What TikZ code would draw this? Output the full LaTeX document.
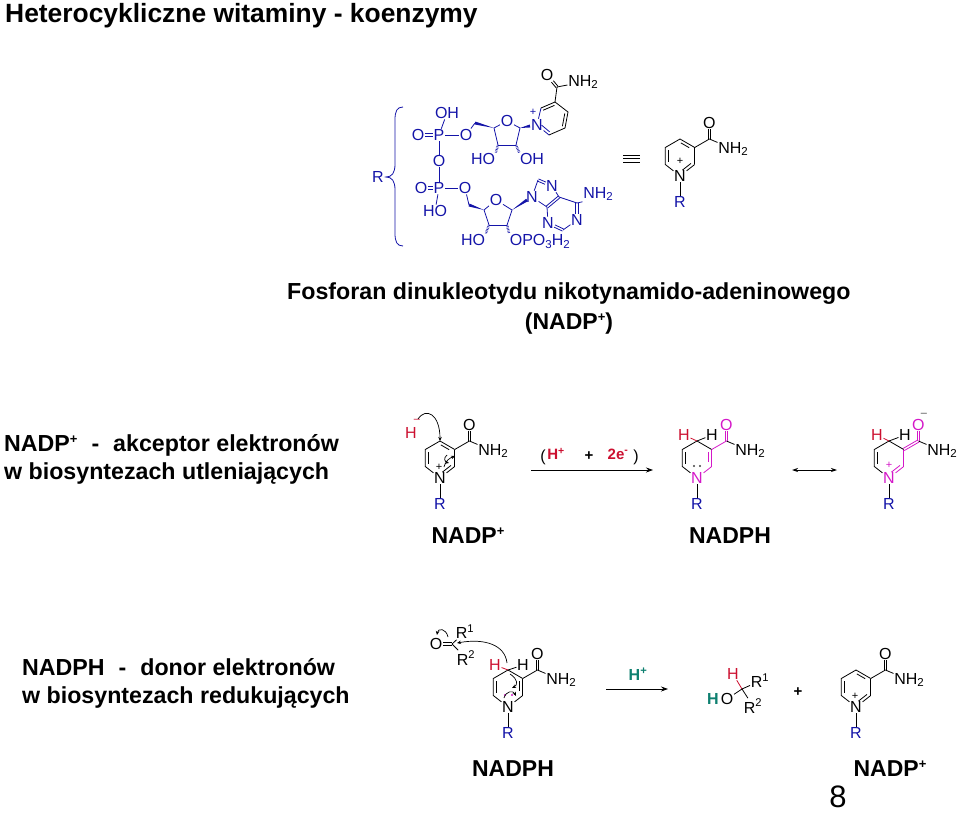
\documentclass[tikz,border=0pt]{standalone}
\usepackage{fontspec}
\setmainfont{Liberation Sans}
\usetikzlibrary{calc,arrows.meta}

\definecolor{chemblue}{HTML}{1414A8}
\definecolor{chemred}{HTML}{CC1030}
\definecolor{chempink}{HTML}{D418C8}
\definecolor{chemteal}{HTML}{0E8070}

\newcommand{\wedgebond}[2]{\fill[chemblue] (#1) -- ($(#2)!1.5pt!90:(#1)$) -- ($(#2)!1.5pt!-90:(#1)$) -- cycle;}
\newcommand{\dblbond}[3][black]{
  \path (#2) -- coordinate[pos=0] (ds) coordinate[pos=1] (de) (#3);
  \draw[bond,#1] ($(ds)!1.2pt!90:(de)$) -- ($(de)!1.2pt!-90:(ds)$);
  \draw[bond,#1] ($(ds)!1.2pt!-90:(de)$) -- ($(de)!1.2pt!90:(ds)$);
}
\newcommand{\sbs}[1]{\raisebox{-0.35ex}{\fontsize{11.5}{11.5}\selectfont #1}}
\newcommand{\hplus}{\raisebox{0.6ex}{\fontsize{13}{13}\selectfont +}}

\tikzset{
  atom/.style={inner sep=0.6pt,font=\fontsize{16}{16}\selectfont},
  heading/.style={anchor=base west,inner sep=0pt,font=\bfseries\fontsize{23.2}{24}\selectfont},
  namelabel/.style={anchor=base,inner sep=0pt,font=\bfseries\fontsize{23}{24}\selectfont},
  chg/.style={inner sep=0pt,font=\fontsize{11}{11}\selectfont},
  bond/.style={line width=0.8pt},
  hashbond/.style={line width=2.4pt,dash pattern=on 0.6pt off 0.9pt,chemblue},
  curly/.style={line width=0.7pt,-{Stealth[length=4pt,width=3.5pt]}},
  pics/niacin/.style n args={3}{code={
    \coordinate (o) at (0,0);
    \coordinate (c2) at (14.7,8.5);
    \coordinate (c3) at (14.7,-8.5);
    \coordinate (c4) at (0,-17);
    \coordinate (c5) at (-14.7,-8.5);
    \coordinate (c6) at (-14.7,8.5);
    \coordinate (co) at (29.4,-17);
    \node[atom,text=#1] (n) at (0,20) {N};
    \node[atom,text=chemblue] (r) at (0,46) {R};
    \node[atom,text=#1] (ox) at (29.4,-33) {O};
    \node[atom] (nh) at (53,-7) {NH\sbs{2}};
    \draw[bond] (n) -- (c6) -- (c5) -- (c4);
    \draw[bond,shorten >=1pt,shorten <=1pt] ($(c6)!.2!(o)$) -- ($(c5)!.2!(o)$);
    \draw[bond] (n) -- (r);
    \draw[bond] (co) -- (nh);
    \dblbond[#1]{co}{ox}
    \foreach \a/\b/\c in {#2} {
      \draw[bond,\c] (\a) -- (\b);
    }
    \foreach \a/\b/\c in {#3} {
      \draw[bond,\c] (\a) -- (\b);
      \draw[bond,\c,shorten >=3pt,shorten <=1pt] ($(\a)!.2!(o)$) -- ($(\b)!.2!(o)$);
    }
  }}
}

\begin{document}
\begin{tikzpicture}[x=1pt,y=-1pt]
\useasboundingbox (0,0) rectangle (960,813);

% headings
\node[heading,font=\bfseries\fontsize{26.4}{28}\selectfont] (title) at (5,23) {Heterocykliczne witaminy - koenzymy};
\node[heading] (fosforan) at (287,299) {Fosforan dinukleotydu nikotynamido-adeninowego};
\node[namelabel] (nadpname) at (569,329) {(NADP\hplus)};
\node[heading] (akc1) at (4,451) {NADP\hplus\hspace{14pt}-\hspace{14pt}akceptor elektronów};
\node[heading] (akc2) at (4,479) {w biosyntezach utleniających};
\node[heading] (don1) at (22,675) {NADPH\hspace{14pt}-\hspace{14pt}donor elektronów};
\node[heading] (don2) at (22,703) {w biosyntezach redukujących};
\node[namelabel] (lab1) at (468,543) {NADP\hplus};
\node[namelabel] (lab2) at (730,543) {NADPH};
\node[namelabel] (lab3) at (513,776) {NADPH};
\node[namelabel] (lab4) at (890,776) {NADP\hplus};
\node[namelabel,font=\fontsize{31}{31}\selectfont] (page) at (838,807) {8};

% R brace
\node[atom,text=chemblue] (bigr) at (378,177) {R};
\draw[bond,chemblue] (403,107) .. controls (397,107) and (395,111) .. (395,120) -- (395,164)
  .. controls (395,173) and (392,177) .. (386,177) .. controls (392,177) and (395,181) .. (395,190)
  -- (395,233) .. controls (395,242) and (397,246) .. (403,246);

\begin{scope}[every node/.append style={atom,text=chemblue}]
% phosphates
\node (oh1) at (447,113) {OH};
\node (p1) at (439,135) {P};
\node (ox1) at (418,135) {O};
\node (o1) at (466,135) {O};
\node (o2) at (439,161) {O};
\node (p2) at (439,188) {P};
\node (ox2) at (421,188) {O};
\node (o3) at (465,188) {O};
\node (ho3) at (435,211) {HO};

% nicotinamide ribose
\node (fo1) at (507,121) {O};
\coordinate (ch1) at (475,123);
\coordinate (a4) at (494,128);
\coordinate (a1) at (520,128);
\coordinate (a3) at (498,145);
\coordinate (a2) at (516,145);
\node (ho1) at (483,159) {HO};
\node (oh2) at (532,159) {OH};
\node (nplus) at (537,125) {N};
\coordinate (nw) at (530,126);
\node[chg] (pl1) at (533,112) {+};

% adenine ribose
\node (fo2) at (496,200) {O};
\coordinate (ch2) at (469,205);
\coordinate (b4) at (484,210);
\coordinate (b1) at (512,210);
\coordinate (b3) at (489,225);
\coordinate (b2) at (507,225);
\node (ho2) at (473,240) {HO};
\node[anchor=west] (opo) at (509,241) {OPO\sbs{3}H\sbs{2}};

% adenine
\node (n9) at (532,197) {N};
\coordinate (n9w) at (527,200);
\coordinate (d8) at (538,180);
\node (n7) at (552,186) {N};
\coordinate (d5) at (559,197);
\coordinate (d4) at (547,207);
\coordinate (d6) at (577,203);
\node (n1) at (577,220) {N};
\coordinate (d2) at (563,230);
\node (n3) at (548,223) {N};
\node (nh2) at (598,194) {NH\sbs{2}};
\end{scope}

\foreach \a/\b in {p1/oh1,p1/o1,p1/o2,o2/p2,p2/o3,p2/ho3,o1/ch1,o3/ch2,
  a4/fo1,fo1/a1,a1/a2,a2/a3,a3/a4,b4/fo2,fo2/b1,b1/b2,b2/b3,b3/b4,
  n9/d8,n7/d5,d5/d6,n1/d2,n3/d4,d4/n9,d6/nh2.south west} {
  \draw[bond,chemblue] (\a) -- (\b);
}
\foreach \a/\b in {p1/ox1,p2/ox2,d8/n7,d5/d4,d6/n1,d2/n3} {
  \dblbond[chemblue]{\a}{\b}
}
\wedgebond{a4}{ch1}
\wedgebond{a1}{nw}
\wedgebond{b4}{ch2}
\wedgebond{b1}{n9w}
\draw[hashbond] (a3) -- (ho1.north east);
\draw[hashbond] (a2) -- (oh2.north west);
\draw[hashbond] (b3) -- (ho2.north east);
\draw[hashbond] (b2) -- (opo.north west);

% tilted pyridinium
\coordinate (e0) at (552,119);
\coordinate (e1) at (541,108);
\coordinate (e2) at (555,102);
\coordinate (e3) at (568,112);
\coordinate (e4) at (565,128);
\coordinate (e5) at (549,135);
\coordinate (e6) at (557,87);
\node[atom] (eo) at (547,75) {O};
\node[atom] (enh) at (583,82) {NH\sbs{2}};
\draw[bond,chemblue] (nplus) -- (e1);
\draw[bond] (e1) -- (e2) -- (e3) -- (e4) -- (e5);
\draw[bond,chemblue] (e5) -- (nplus);
\draw[bond] (e2) -- (e6) -- (enh);
\dblbond{e6}{eo}
\draw[bond] ($(e1)!.2!(e0)$) -- ($(e2)!.2!(e0)$);
\draw[bond] ($(e3)!.2!(e0)$) -- ($(e4)!.2!(e0)$);
\draw[bond,chemblue,shorten >=2pt] ($(e5)!.2!(e0)$) -- ($(nplus)!.2!(e0)$);

% equivalence sign
\coordinate (eq1) at (623,155);
\coordinate (eq2) at (640,155);
\coordinate (eq3) at (623,158.5);
\coordinate (eq4) at (640,158.5);
\coordinate (eq5) at (623,162);
\coordinate (eq6) at (640,162);
\draw[bond] (eq1) -- (eq2);
\draw[bond] (eq3) -- (eq4);
\draw[bond] (eq5) -- (eq6);

% ring on the right
\pic (top-) at (680,156) {niacin={black}{c3/c2/black,c3/co/black}{c4/c3/black,c2/n/black}};
\node[chg] (pl2) at (680,161) {+};

% NADP+ in the first reaction
\pic (ox-) at (440,458) {niacin={black}{c3/c2/black,c3/co/black}{c4/c3/black,c2/n/black}};
\node[chg] (pl3) at (439,467) {+};
\node[atom,text=chemred] (hmin) at (411,433) {H};
\node[chg,text=chemred] (minus1) at (417,421) {–};
\draw[curly] (418,419) .. controls (426,407) and (440,414) .. (ox-c4);
\draw[curly] (444,467) .. controls (446,460) and (450,458) .. (455,456);
\draw[curly] (447,455) .. controls (443,458) and (445,462) .. (449,463);

% first arrow
\coordinate (st1) at (531,470);
\coordinate (en1) at (653,470);
\draw[bond,-{Stealth[length=7pt,width=5pt]}] (st1) -- (en1);
\node[atom] (br1) at (543,457) {(};
\node[atom,text=chemred,font=\bfseries\fontsize{15}{15}\selectfont] (hp1) at (556,454) {H\textsuperscript{+}};
\node[atom,font=\bfseries\fontsize{15}{15}\selectfont] (pl4) at (589,456) {+};
\node[atom,text=chemred,font=\bfseries\fontsize{15}{15}\selectfont] (el) at (618,454) {2e\textsuperscript{-}};
\node[atom] (br2) at (636,457) {)};

% NADPH and its other form
\pic (red-) at (697,458) {niacin={chempink}{c4/c3/black,c3/co/chempink,c2/n/chempink}{c3/c2/chempink}};
\node[atom,text=chemred] (h1) at (684,435) {H};
\node[atom] (h2) at (712,435) {H};
\draw[bond,chemred] (h1) -- (red-c4);
\draw[bond] (h2) -- (red-c4);
\node[circle,fill=black!75,inner sep=0.8pt] (lp1) at (694,466) {};
\node[circle,fill=black!75,inner sep=0.8pt] (lp2) at (700,466) {};

\coordinate (st2) at (792,470);
\coordinate (en2) at (837,470);
\draw[bond,{Stealth[length=6pt,width=4pt]}-{Stealth[length=6pt,width=4pt]}] (st2) -- (en2);

\pic (res-) at (889,458) {niacin={chempink}{c4/c3/black,c3/c2/chempink}{c2/n/chempink}};
\dblbond[chempink]{res-c3}{res-co}
\node[atom,text=chemred] (h3) at (877,435) {H};
\node[atom] (h4) at (905,435) {H};
\draw[bond,chemred] (h3) -- (res-c4);
\draw[bond] (h4) -- (res-c4);
\node[chg,text=chempink] (pl5) at (889,465) {+};
\node[chg,text=black!70] (minus2) at (924,415) {–};

% carbonyl substrate
\coordinate (sc) at (452,644);
\node[atom] (so) at (436,644) {O};
\node[atom] (sr1) at (465,632) {R\textsuperscript{1}};
\node[atom] (sr2) at (466,658) {R\textsuperscript{2}};
\dblbond{so}{sc}
\draw[bond] (sc) -- (sr1);
\draw[bond] (sc) -- (sr2);
\draw[curly] (448,637) .. controls (446,628) and (438,628) .. (437,635);

% NADPH in the second reaction
\pic (don-) at (508,687) {niacin={black}{c4/c3/black,c3/co/black,c2/n/black}{c3/c2/black}};
\node[atom,text=chemred] (h5) at (495,665) {H};
\node[atom] (h6) at (523,665) {H};
\draw[bond,chemred] (h5) -- (don-c4);
\draw[bond] (h6) -- (don-c4);
\node[circle,fill=chempink,inner sep=0.8pt] (lp3) at (505,695) {};
\node[circle,fill=chempink,inner sep=0.8pt] (lp4) at (512,695) {};
\draw[curly] (507,663) .. controls (505,645) and (485,638) .. (457,643);
\draw[curly] (510,674) .. controls (518,679) and (518,685) .. (512,688);
\draw[curly] (504,698) .. controls (506,691) and (513,690) .. (516,696);

% second arrow
\coordinate (st3) at (606,689);
\coordinate (en3) at (668,689);
\draw[bond,-{Stealth[length=7pt,width=5pt]}] (st3) -- (en3);
\node[atom,text=chemteal,font=\bfseries\fontsize{16}{16}\selectfont] (hp2) at (638,674) {H\textsuperscript{+}};

% alcohol
\coordinate (pc) at (742,689);
\node[atom,text=chemred] (ph) at (733,674) {H};
\node[atom] (pr1) at (760,681) {R\textsuperscript{1}};
\node[atom] (pr2) at (753,706) {R\textsuperscript{2}};
\node[atom] (po) at (727,699) {O};
\node[atom,text=chemteal,font=\bfseries\fontsize{16}{16}\selectfont] (phh) at (713,699) {H};
\draw[bond,chemred] (ph) -- (pc);
\draw[bond] (pc) -- (pr1);
\draw[bond] (pc) -- (pr2);
\draw[bond] (pc) -- (po);
\node[atom,font=\bfseries\fontsize{15}{15}\selectfont] (pl6) at (798,692) {+};

\pic (end-) at (856,687) {niacin={black}{c3/c2/black,c3/co/black}{c4/c3/black,c2/n/black}};
\node[chg] (pl7) at (855,696) {+};

\end{tikzpicture}
\end{document}
